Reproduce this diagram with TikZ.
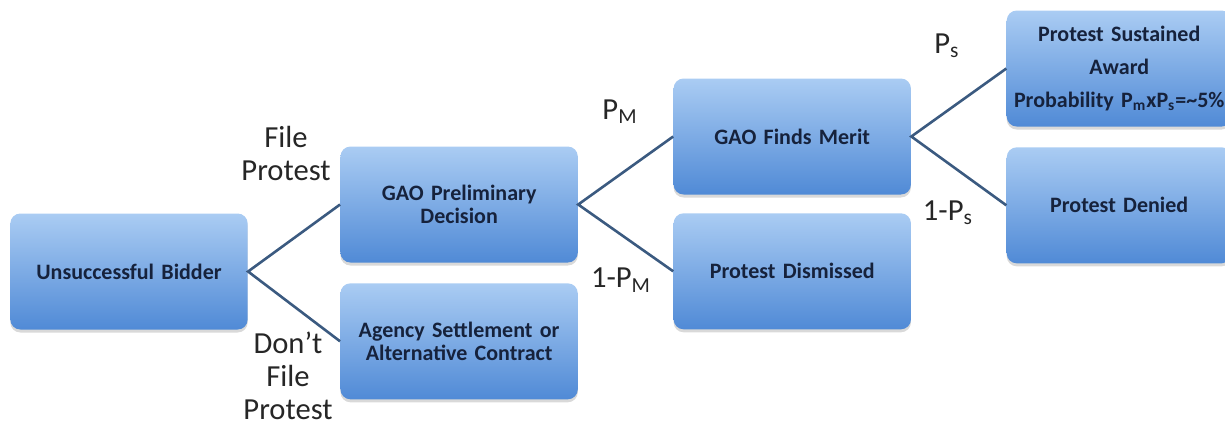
\documentclass[tikz,border=0pt]{standalone}
\usepackage{fontspec}
\setmainfont{Carlito}
\usepackage{tikz}
\usetikzlibrary{positioning, shadows}
\definecolor{boxtop}{RGB}{170,204,243}
\definecolor{boxbot}{RGB}{80,138,214}
\definecolor{linecol}{RGB}{59,90,128}
\definecolor{txtcol}{RGB}{22,34,60}
\tikzset{
    x=0.5pt, y=-0.5pt, node distance = 10pt and 46pt, % one unit is one pixel of the reference, y runs downwards
    box/.style = {rectangle, rounded corners=5pt, top color=boxtop, bottom color=boxbot, minimum width=117pt, minimum height=58pt, text width=112pt, align=center, text=txtcol, font=\bfseries\fontsize{11}{11.5}\selectfont, drop shadow={shadow xshift=0pt, shadow yshift=-1.5pt, opacity=0.3}}, % the blue decision boxes
    narrow/.style = {minimum width=112.5pt, text width=110.5pt, inner xsep=1pt}, % the last column is a bit narrower
    lbl/.style = {align=center, text=black!85, font=\fontsize{15.3}{16.5}\selectfont}, % text on the branches
    branch/.style = {draw=linecol, line width=1.3pt, line join=miter}
}
\begin{document}
\begin{tikzpicture}
    \useasboundingbox (0,0) rectangle (1225,425);
    % first box at a fixed place, the others follow it
    \node[box] (bidder) at (129,271.5) {Unsuccessful Bidder};

    \node[box, right=46pt of bidder, yshift=33.5pt] (prelim) {GAO Preliminary\\Decision};
    \node[box, below=10pt of prelim] (agency) {Agency Settlement or\\Alternative Contract};
    \node[box, right=47.5pt of prelim, yshift=34pt] (merit) {GAO Finds Merit};
    \node[box, below=9pt of merit] (dismiss) {Protest Dismissed};
    \node[box, narrow, right=47.5pt of merit, yshift=34pt] (sustain) {Protest Sustained\\[5pt] Award\\[5pt] Probability P\textsubscript{m}xP\textsubscript{s}=\textasciitilde5\%};
    \node[box, narrow, below=10pt of sustain] (denied) {Protest Denied};

    \draw[branch] (prelim.west) -- (bidder.east) -- (agency.west);
    \draw[branch] (merit.west) -- (prelim.east) -- (dismiss.west);
    \draw[branch] (sustain.west) -- (merit.east) -- (denied.west);

    % labels of the branches
    \node[lbl] (filep) at (286,153) {File\\Protest};
    \node[lbl] (nofile) at (288,376) {Don't\\File\\Protest};
    \node[lbl] (pm) at (620,112) {P\textsubscript{M}};
    \node[lbl] (notpm) at (621,280) {1-P\textsubscript{M}};
    \node[lbl] (ps) at (947,46) {P\textsubscript{s}};
    \node[lbl] (notps) at (948,213) {1-P\textsubscript{s}};
\end{tikzpicture}
\end{document}
